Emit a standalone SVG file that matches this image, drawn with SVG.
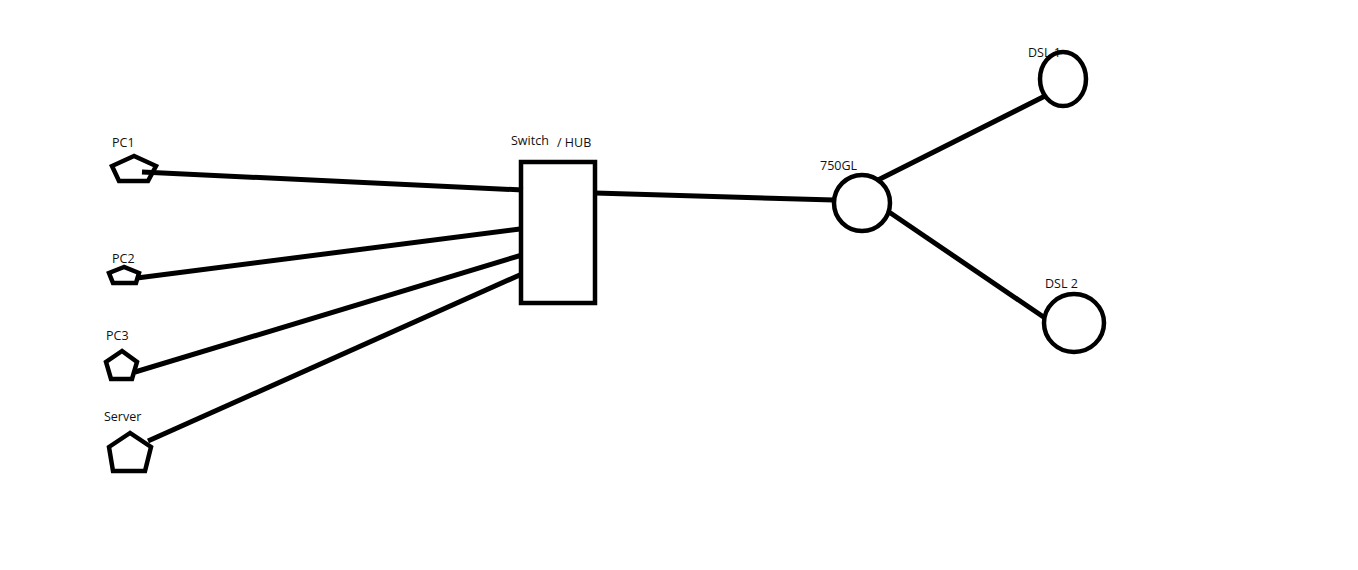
<svg xmlns="http://www.w3.org/2000/svg" width="1358" height="570" viewBox="0 0 1358 570">
<style>
.s{fill:none;stroke:#000;stroke-width:4.5;stroke-linejoin:miter}
.c{fill:none;stroke:#000;stroke-width:5}
.t{font-family:"Open Sans","Liberation Sans",sans-serif;font-size:12.5px;fill:#111}
</style>
<rect width="1358" height="570" fill="#fff"/>
<g id="connectors">
<line class="c" x1="142" y1="172" x2="523" y2="190"/>
<line class="c" x1="137" y1="278" x2="520" y2="229"/>
<line class="c" x1="135" y1="372" x2="522" y2="255"/>
<line class="c" x1="148" y1="441" x2="522" y2="274"/>
<line class="c" x1="595" y1="193" x2="834" y2="200"/>
<line class="c" x1="878" y1="180" x2="1045" y2="96"/>
<line class="c" x1="889" y1="212" x2="1045" y2="318"/>
</g>
<g id="pc1">
<polygon class="s" points="134,156 112,166 119,181 148,181 156,166"/>
<text class="t" x="112" y="147">PC1</text>
</g>
<g id="pc2">
<polygon class="s" points="124,267 109,273 113,283 136,283 139,273"/>
<text class="t" x="112" y="263">PC2</text>
</g>
<g id="pc3">
<polygon class="s" points="122,351 106,362 111,379 132,379 137,362"/>
<text class="t" x="106" y="340">PC3</text>
</g>
<g id="server">
<polygon class="s" points="130,433 109,447 113,471 145,471 151,447"/>
<text class="t" x="104" y="421">Server</text>
</g>
<g id="switch">
<rect class="s" x="521" y="162" width="74" height="141"/>
<text class="t" x="511" y="145">Switch</text>
<text class="t" x="557" y="147">/ HUB</text>
</g>
<g id="router">
<circle class="s" cx="862" cy="203" r="28"/>
<text class="t" x="820" y="170">750GL</text>
</g>
<g id="dsl1">
<text class="t" x="1028" y="57">DSL 1</text>
<ellipse class="s" cx="1063" cy="79" rx="23" ry="27"/>
</g>
<g id="dsl2">
<ellipse class="s" cx="1074" cy="323" rx="30" ry="29"/>
<text class="t" x="1045" y="288">DSL 2</text>
</g>
</svg>
